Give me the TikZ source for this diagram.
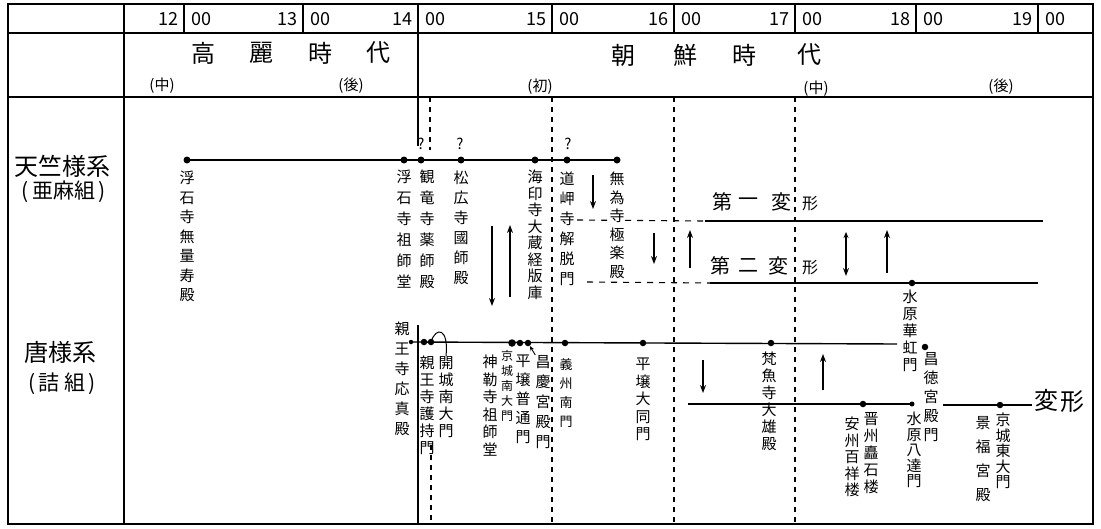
\documentclass[tikz,border=0pt]{standalone}
\usepackage{fontspec}
\newfontfamily\cjk{Noto Sans CJK JP}
\usetikzlibrary{arrows.meta}
\tikzset{
  frame/.style={line width=2.4pt},
  rule/.style={line width=1.9pt},
  tick/.style={line width=1.4pt},
  tl/.style={line width=1.4pt},
  vsolid/.style={line width=1.3pt},
  dd/.style={line width=1.2pt, dash pattern=on 5pt off 5pt},
  hd/.style={line width=1.1pt, dash pattern=on 6pt off 6pt},
  dot/.style={circle, fill=black, inner sep=0pt, minimum size=#1},
  dot/.default=6.5pt,
  vlab/.style={anchor=north, align=center, inner sep=0pt, font=\cjk\fontsize{15}{#1}\selectfont},
  vlab/.default=19,
  arr/.style={-{Stealth[length=8pt,width=6pt]}, line width=1.2pt},
  num/.style={font=\cjk\fontsize{18}{18}\selectfont, inner sep=0pt},
  big/.style={font=\cjk\fontsize{24}{24}\selectfont, inner sep=0pt},
  mid/.style={font=\cjk\fontsize{20}{20}\selectfont, inner sep=0pt},
  sm/.style={font=\cjk\fontsize{15}{15}\selectfont, inner sep=0pt},
}
\begin{document}
\begin{tikzpicture}[x=1pt,y=-1pt]
\useasboundingbox (0,0) rectangle (1101,528);
% ---- frame and header grid
\draw[frame] (8,4) rectangle (1093,524);
\draw[rule] (8,33) -- (1093,33);
\draw[rule] (8,97) -- (1093,97);
\draw[rule] (124,4) -- (124,524);
\draw[rule] (418,33) -- (418,97);
\foreach \x/\h in {184/12,303/13,418/14,552/15,674/16,795/17,916/18,1038/19}{
  \draw[tick] (\x,4) -- (\x,33);
  \node[num, anchor=east] (h\h) at (\x-5,19) {\h};
  \node[num, anchor=west] (m\h) at (\x+7,19) {00};
}
% ---- period names
\node[big] (k1) at (203,53) {高};
\node[big] (k2) at (261,53) {麗};
\node[big] (k3) at (320,53) {時};
\node[big] (k4) at (378,53) {代};
\node[sm] (k5) at (162,86) {(中)};
\node[sm] (k6) at (351,86) {(後)};
\node[big] (c1) at (623,55) {朝};
\node[big] (c2) at (685,55) {鮮};
\node[big] (c3) at (744,55) {時};
\node[big] (c4) at (809,55) {代};
\node[sm] (c5) at (540,87) {(初)};
\node[sm] (c6) at (816,89) {(中)};
\node[sm] (c7) at (1001,87) {(後)};
% ---- row heads
\node[big] (r1) at (63,166) {天竺様系};
\node[font=\cjk\fontsize{21}{21}\selectfont, inner sep=0pt] (r2) at (64,192) {(\,亜麻組\,)};
\node[big] (r3) at (60,352) {唐様系};
\node[font=\cjk\fontsize{21}{21}\selectfont, inner sep=0pt] (r4) at (62,384) {(\,詰\ 組\,)};
% ---- vertical guide lines
\draw[vsolid] (418,97) -- (418,146);
\draw[vsolid] (418,325) -- (418,524);
\draw[dd] (430,97) -- (430,150);
\draw[dd] (431,445) -- (431,524);
\foreach \x in {552,674,795}{ \draw[dd] (\x,97) -- (\x,524); }
% ---- transformation guide lines
\coordinate (f1s) at (577,220); \coordinate (f1m) at (705,221); \coordinate (f1e) at (1043,221);
\coordinate (f2s) at (587,282); \coordinate (f2m) at (710,283); \coordinate (f2e) at (1038,283);
\draw[hd] (f1s) -- (f1m);
\draw[tl] (f1m) -- (f1e);
\draw[hd] (f2s) -- (f2m);
\draw[tl] (f2m) -- (f2e);
\node[dot] (f2d) at (912,283) {};
\node[mid] (t1) at (722,202) {第};
\node[mid] (t2) at (748,202) {一};
\node[mid] (t3) at (781,202) {変};
\node[font=\cjk\fontsize{16}{16}\selectfont, inner sep=0pt] (t4) at (810,204) {形};
\node[mid] (t5) at (720,266) {第};
\node[mid] (t6) at (748,266) {二};
\node[mid] (t7) at (778,266) {変};
\node[font=\cjk\fontsize{16}{16}\selectfont, inner sep=0pt] (t8) at (810,268) {形};
% ---- upper (天竺様系) line
\node[dot=7pt] (u1) at (187,160) {};
\node[dot=7pt] (u2) at (404,160) {};
\node[dot=7pt] (u3) at (421,160) {};
\node[dot=7pt] (u4) at (461,160) {};
\node[dot=7pt] (u5) at (535,160) {};
\node[dot=7pt] (u6) at (567,160) {};
\node[dot=7pt] (u7) at (617,160) {};
\draw[tl] (u1.center) -- (u7.center);
\node[sm] (q1) at (421,144) {?};
\node[sm] (q2) at (460,144) {?};
\node[sm] (q3) at (568,144) {?};
\node[vlab=19.5] (U1) at (187,171) {浮\\石\\寺\\無\\量\\寿\\殿};
\node[vlab=21] (U2) at (404,170) {浮\\石\\寺\\祖\\師\\堂};
\node[vlab=21] (U3) at (427,170) {観\\竜\\寺\\薬\\師\\殿};
\node[vlab=20] (U4) at (461,171) {松\\広\\寺\\國\\師\\殿};
\node[vlab=16.5] (U5) at (535,170) {海\\印\\寺\\大\\蔵\\経\\版\\庫};
\node[vlab=20] (U6) at (567,172) {道\\岬\\寺\\解\\脱\\門};
\node[vlab=18.5, fill=white] (U7) at (617,172) {無\\為\\寺\\極\\楽\\殿};
% ---- lower (唐様系) line
\node[dot=4.5pt] (l0) at (411,342) {};
\node[dot] (l1) at (424,342) {};
\node[dot] (l2) at (431,342) {};
\node[dot=7.5pt] (l3) at (512,343) {};
\node[dot] (l4) at (520,343) {};
\node[dot] (l5) at (528,343) {};
\node[dot] (l6) at (565,343) {};
\node[dot] (l7) at (643,343) {};
\node[dot] (l8) at (771,343) {};
\coordinate (lend) at (897,344);
\draw[tl] (l0.center) -- (lend);
\node[dot] (d9) at (925,347) {};
\node[vlab=20] (L0) at (402,322) {親\\王\\寺\\応\\真\\殿};
\node[vlab=17] (L1) at (427,356) {親\\王\\寺\\護\\持\\門};
\node[vlab=17] (L2) at (446,356) {開\\城\\南\\大\\門};
\node[vlab=17.5] (L3) at (490,355) {神\\勒\\寺\\祖\\師\\堂};
\node[anchor=north, align=center, inner sep=0pt, font=\cjk\fontsize{12}{15}\selectfont] (L4) at (507,350) {京\\城\\南\\大\\門};
\node[vlab=19] (L5) at (523,355) {平\\壌\\普\\通\\門};
\node[vlab=20] (L6) at (543,355) {昌\\慶\\宮\\殿\\門};
\node[anchor=north, align=center, inner sep=0pt, font=\cjk\fontsize{13}{19}\selectfont] (L7) at (566,358) {義\\州\\南\\門};
\node[vlab=17.5] (L8) at (643,358) {平\\壌\\大\\同\\門};
\node[vlab=17] (L9) at (769,352) {梵\\魚\\寺\\大\\雄\\殿};
\node[vlab=17] (L10) at (910,290) {水\\原\\華\\虹\\門};
\node[vlab=19] (L11) at (931,352) {昌\\徳\\宮\\殿\\門};
\draw[line width=1pt] (l2.center) .. controls (436,326) and (449,328) .. (L2.north);
\draw[-{Stealth[length=5pt,width=4pt]}, line width=0.9pt] (L6.north west) -- (l5);
% ---- 変形 line
\coordinate (v0) at (688,404);
\node[dot] (v1) at (863,404) {};
\node[dot=5pt] (v2) at (912,404) {};
\coordinate (v3) at (943,405);
\node[dot] (v4) at (1000,405) {};
\coordinate (v5) at (1032,405);
\draw[tl] (v0) -- (v2.center);
\draw[tl] (v3) -- (v5);
\node[big] (w1) at (1046,400) {変};
\node[big] (w2) at (1072,402) {形};
\node[vlab=16.5] (L12) at (852,417) {安\\州\\百\\祥\\楼};
\node[vlab=17] (L13) at (871,412) {晋\\州\\矗\\石\\楼};
\node[vlab=15.5] (L14) at (914,412) {水\\原\\八\\達\\門};
\node[vlab=15.5] (L15) at (1003,413) {京\\城\\東\\大\\門};
\node[vlab=24] (L16) at (983,416) {景\\福\\宮\\殿};
% ---- arrows
\coordinate (a1s) at (593,175); \coordinate (a1e) at (593,209);
\coordinate (a2s) at (492,226); \coordinate (a2e) at (492,306);
\coordinate (a3s) at (510,297); \coordinate (a3e) at (510,225);
\coordinate (a4s) at (654,233); \coordinate (a4e) at (654,264);
\coordinate (a5s) at (690,268); \coordinate (a5e) at (690,230);
\coordinate (a6s) at (846,232); \coordinate (a6e) at (846,276);
\coordinate (a7s) at (887,273); \coordinate (a7e) at (887,230);
\coordinate (a8s) at (703,360); \coordinate (a8e) at (703,393);
\coordinate (a9s) at (823,390); \coordinate (a9e) at (823,354);
\draw[arr] (a1s) -- (a1e);
\draw[arr] (a2s) -- (a2e);
\draw[arr] (a3s) -- (a3e);
\draw[arr] (a4s) -- (a4e);
\draw[arr] (a5s) -- (a5e);
\draw[arr, {Stealth[length=6pt,width=5pt]}-{Stealth[length=8pt,width=6pt]}] (a6s) -- (a6e);
\draw[arr] (a7s) -- (a7e);
\draw[arr] (a8s) -- (a8e);
\draw[arr] (a9s) -- (a9e);
\end{tikzpicture}
\end{document}
